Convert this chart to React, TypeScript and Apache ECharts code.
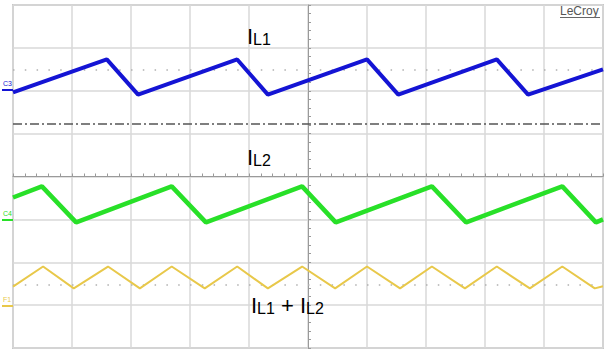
import React, { useEffect, useRef } from "react";
import * as echarts from "echarts";

// Time axis in screen divisions (-5..5), vertical in divisions (-4..4)
const blueTime = [-5, -3.41, -2.88, -1.2, -0.68, 1.0, 1.53, 3.2, 3.73, 5];
const blueValue = [1.96, 2.73, 1.91, 2.73, 1.91, 2.73, 1.91, 2.73, 1.91, 2.5];

const greenTime = [-5, -4.51, -3.93, -2.31, -1.73, -0.1, 0.47, 2.1, 2.68, 4.31, 4.88, 5];
const greenValue = [-0.49, -0.23, -1.07, -0.23, -1.07, -0.23, -1.07, -0.23, -1.07, -0.23, -1.07, -1.0];

const sumTime = [-5, -4.49, -3.97, -3.39, -2.85, -2.31, -1.75, -1.2, -0.68, -0.1, 0.46, 1.0, 1.56, 2.1, 2.66, 3.2, 3.76, 4.31, 4.86, 5];
const sumValue = [-2.57, -2.1, -2.61, -2.1, -2.61, -2.1, -2.61, -2.1, -2.61, -2.1, -2.61, -2.1, -2.61, -2.1, -2.61, -2.1, -2.61, -2.1, -2.61, -2.56];

const triggerLevel = 1.235;
const refLevels = [2.49, -2.52];

const zip = (t: number[], v: number[]) => t.map((x, i) => [x, v[i]]);

const BLUE = "#1414d4";
const GREEN = "#28e028";
const YELLOW = "#e8c84a";

export default function App() {
  const ref = useRef<HTMLDivElement>(null);
  useEffect(() => {
    const chart = echarts.init(ref.current!, undefined, { renderer: "svg" });
    const font = "'Liberation Sans', Arial, sans-serif";
    const sub = (main: string, s: string) => `{i|${main}}{s|${s}}`;
    const rich = {
      i: { fontSize: 22, fontFamily: font, fill: "#000", color: "#000", verticalAlign: "bottom" },
      s: { fontSize: 16, fontFamily: font, fill: "#000", color: "#000", verticalAlign: "bottom" },
      p: { fontSize: 22, fontFamily: font, fill: "#000", color: "#000", verticalAlign: "bottom" },
    };
    chart.setOption({
      animation: false,
      backgroundColor: "#ffffff",
      grid: {
        left: 13,
        top: 5,
        right: 1,
        bottom: 4,
        show: true,
        borderColor: "#c8c8c8",
        borderWidth: 2,
      },
      xAxis: {
        type: "value",
        min: -5,
        max: 5,
        interval: 1,
        axisLine: { show: true, onZero: true, lineStyle: { color: "#9a9a9a", width: 1 } },
        axisTick: { show: true, inside: true, length: 3, lineStyle: { color: "#9a9a9a" } },
        minorTick: { show: true, splitNumber: 5, length: 3, lineStyle: { color: "#9a9a9a" } },
        axisLabel: { show: false },
        splitLine: { show: true, lineStyle: { color: "#d9d9d9", width: 1.5 } },
      },
      yAxis: {
        type: "value",
        min: -4,
        max: 4,
        interval: 1,
        axisLine: { show: true, onZero: true, lineStyle: { color: "#9a9a9a", width: 1 } },
        axisTick: { show: true, inside: true, length: 3, lineStyle: { color: "#9a9a9a" } },
        minorTick: { show: true, splitNumber: 5, length: 3, lineStyle: { color: "#9a9a9a" } },
        axisLabel: { show: false },
        splitLine: { show: true, lineStyle: { color: "#d9d9d9", width: 1.5 } },
      },
      series: [
        {
          type: "line",
          data: zip(blueTime, blueValue),
          symbol: "none",
          lineStyle: { color: BLUE, width: 4 },
          z: 5,
          markLine: {
            silent: true,
            symbol: "none",
            label: { show: false },
            data: [
              { yAxis: triggerLevel, lineStyle: { color: "#555", width: 1.5, type: [9, 3, 2, 3] } },
              ...refLevels.map((v) => ({
                yAxis: v,
                lineStyle: { color: "#b0b0b0", width: 1.5, type: [1.5, 10.3] },
              })),
            ],
          },
        },
        {
          type: "line",
          data: zip(greenTime, greenValue),
          symbol: "none",
          lineStyle: { color: GREEN, width: 4.5 },
          z: 5,
        },
        {
          type: "line",
          data: zip(sumTime, sumValue),
          symbol: "none",
          lineStyle: { color: YELLOW, width: 2 },
          z: 5,
        },
      ],
      graphic: [
        { type: "text", x: 247, y: 25, z: 10, style: { text: sub("I", "L1"), rich, fill: "#000" } },
        { type: "text", x: 247, y: 146, z: 10, style: { text: sub("I", "L2"), rich, fill: "#000" } },
        {
          type: "text",
          x: 251,
          y: 294,
          z: 10,
          style: { text: "{i|I}{s|L1}{p| + I}{s|L2}", rich, fill: "#000" },
        },
        {
          type: "text",
          x: 560,
          y: 5,
          z: 10,
          style: { text: "LeCroy", fontSize: 12, fontFamily: font, fill: "#555" },
        },
        { type: "line", z: 10, shape: { x1: 560, y1: 17.5, x2: 600, y2: 17.5 }, style: { stroke: "#666", lineWidth: 1 } },
        // channel markers
        { type: "text", x: 3, y: 80, z: 10, style: { text: "C3", fontSize: 7, fontFamily: font, fill: BLUE } },
        { type: "line", z: 10, shape: { x1: 2, y1: 90, x2: 13, y2: 90 }, style: { stroke: BLUE, lineWidth: 2 } },
        { type: "text", x: 3, y: 210, z: 10, style: { text: "C4", fontSize: 7, fontFamily: font, fill: GREEN } },
        { type: "line", z: 10, shape: { x1: 2, y1: 220, x2: 13, y2: 220 }, style: { stroke: GREEN, lineWidth: 2 } },
        { type: "text", x: 3, y: 296, z: 10, style: { text: "F1", fontSize: 7, fontFamily: font, fill: YELLOW } },
        { type: "line", z: 10, shape: { x1: 2, y1: 306, x2: 13, y2: 306 }, style: { stroke: YELLOW, lineWidth: 2 } },
      ],
    });
    return () => chart.dispose();
  }, []);
  return (
    <div
      ref={ref}
      style={{ position: "fixed", left: 0, top: 0, width: 604, height: 352, background: "#fff" }}
    />
  );
}
